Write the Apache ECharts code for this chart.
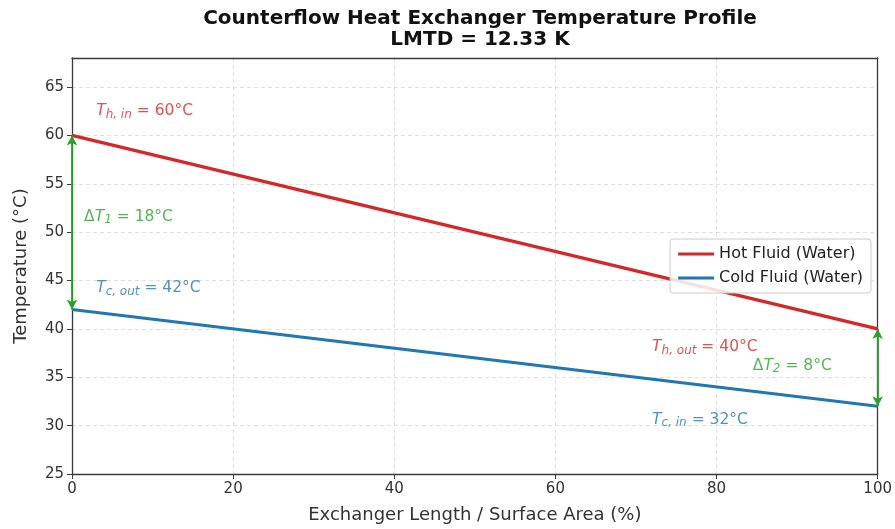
<!DOCTYPE html>
<html>
<head>
<meta charset="utf-8">
<script src="https://cdn.jsdelivr.net/npm/echarts@6/dist/echarts.min.js"></script>
<style>
  html, body { margin: 0; padding: 0; background: #fff; }
  #chart { width: 895px; height: 529px; }
</style>
</head>
<body>
<div id="chart"></div>
<script>
// positions along exchanger (%)
const positions = [0, 100]
const hotTemps = [60, 40]
const coldTemps = [42, 32]
const lmtd = 12.33

// annotation text anchors [x, y]
const hotLabels = [
  { at: [3, 62.5], sub: 'h, in', val: '60°C' },
  { at: [72, 38.1], sub: 'h, out', val: '40°C' }
]
const coldLabels = [
  { at: [3, 44.2], sub: 'c, out', val: '42°C' },
  { at: [72, 30.6], sub: 'c, in', val: '32°C' }
]
const deltaLabels = [
  { at: [1.5, 51.6], sub: '1', val: '18°C' },
  { at: [84.5, 36.2], sub: '2', val: '8°C' }
]

const RED = '#d62728'
const BLUE = '#1f77b4'
const GREEN = '#2ca02c'
const FONT = 'DejaVu Sans'

function richFor(color) {
  return {
    d: { fontFamily: FONT, fontSize: 15.5, color },
    t: { fontFamily: FONT, fontSize: 15.5, fontStyle: 'italic', color },
    s: { fontFamily: FONT, fontSize: 12, fontStyle: 'italic', color, verticalAlign: 'bottom', padding: [7, 0, 0, 0] },
    v: { fontFamily: FONT, fontSize: 15.5, color }
  }
}

function labelSeries(name, items, color, prefix) {
  return {
    name,
    type: 'scatter',
    symbolSize: 0,
    silent: true,
    z: 5,
    data: items.map(d => ({ value: d.at, sub: d.sub, val: d.val })),
    label: {
      show: true,
      position: 'right',
      distance: 0,
      formatter: p => `${prefix}{t|T}{s|${p.data.sub}}{v| = ${p.data.val}}`,
      rich: richFor(color)
    }
  }
}

const chart = echarts.init(document.getElementById('chart'), null, { renderer: 'canvas' })

const axisCommon = {
  axisLine: { show: true, onZero: false, lineStyle: { color: '#3a3a3a', width: 1.3 } },
  axisTick: { show: true, length: 5, lineStyle: { color: '#3a3a3a' } },
  axisLabel: { fontFamily: FONT, fontSize: 15, color: '#333' },
  splitLine: { show: true, lineStyle: { color: '#d9d9d9', type: [4, 3], width: 0.8 } },
  nameLocation: 'middle',
  nameTextStyle: { fontFamily: FONT, fontSize: 18, color: '#333' }
}

// plain frame lines for top / right edges
const frameAxis = {
  axisLine: { show: true, onZero: false, lineStyle: { color: '#3a3a3a', width: 1.3 } },
  axisTick: { show: false },
  axisLabel: { show: false },
  splitLine: { show: false }
}

chart.setOption({
  backgroundColor: '#fff',
  animation: false,
  title: {
    text: 'Counterflow Heat Exchanger Temperature Profile\nLMTD = ' + lmtd.toFixed(2) + ' K',
    left: 475,
    textAlign: 'center',
    top: 3,
    textStyle: { fontFamily: FONT, fontSize: 20, fontWeight: 'bold', color: '#111', lineHeight: 21 }
  },
  grid: { left: 72, right: 17, top: 58, bottom: 55 },
  legend: {
    data: ['Hot Fluid (Water)', 'Cold Fluid (Water)'],
    orient: 'vertical',
    right: 24,
    top: 239,
    itemWidth: 36,
    itemHeight: 3,
    itemGap: 8,
    padding: [7, 8, 7, 8],
    backgroundColor: 'rgba(255,255,255,0.85)',
    borderColor: '#ccc',
    borderWidth: 1,
    borderRadius: 3,
    icon: 'rect',
    textStyle: { fontFamily: FONT, fontSize: 16, color: '#222' }
  },
  xAxis: [
    {
      ...axisCommon,
      type: 'value',
      min: 0,
      max: 100,
      interval: 20,
      name: 'Exchanger Length / Surface Area (%)',
      nameGap: 32
    },
    { ...frameAxis, type: 'value', position: 'top', min: 0, max: 100 }
  ],
  yAxis: [
    {
      ...axisCommon,
      type: 'value',
      min: 25,
      max: 68,
      interval: 5,
      name: 'Temperature (°C)',
      nameGap: 42,
      axisLabel: { ...axisCommon.axisLabel, showMaxLabel: false }
    },
    { ...frameAxis, type: 'value', position: 'right', min: 25, max: 68 }
  ],
  series: [
    {
      name: 'Hot Fluid (Water)',
      type: 'line',
      data: positions.map((x, i) => [x, hotTemps[i]]),
      symbol: 'none',
      color: RED,
      lineStyle: { width: 3.2, color: RED },
      z: 3
    },
    {
      name: 'Cold Fluid (Water)',
      type: 'line',
      data: positions.map((x, i) => [x, coldTemps[i]]),
      symbol: 'none',
      color: BLUE,
      lineStyle: { width: 3.2, color: BLUE },
      z: 3,
      markLine: {
        silent: true,
        symbol: ['arrow', 'arrow'],
        symbolSize: [8, 10],
        label: { show: false },
        lineStyle: { color: GREEN, width: 1.8, type: 'solid' },
        data: [
          [{ coord: [positions[0], hotTemps[0]] }, { coord: [positions[0], coldTemps[0]] }],
          [{ coord: [positions[1], hotTemps[1]] }, { coord: [positions[1], coldTemps[1]] }]
        ]
      }
    },
    labelSeries('hotLabels', hotLabels, RED, ''),
    labelSeries('coldLabels', coldLabels, BLUE, ''),
    labelSeries('deltaLabels', deltaLabels, GREEN, '{d|Δ}')
  ]
})
</script>
</body>
</html>
